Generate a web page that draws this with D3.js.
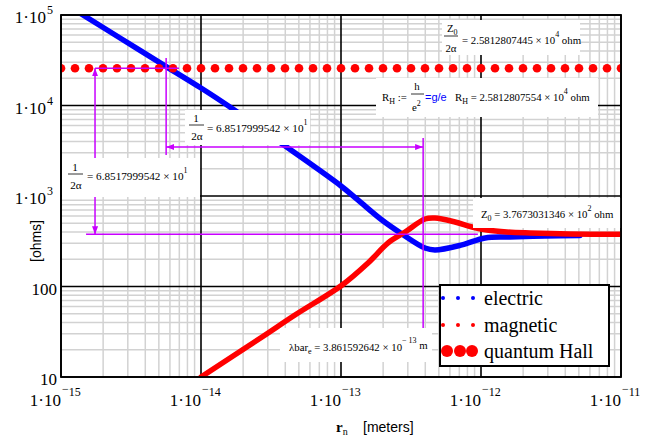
<!DOCTYPE html>
<html>
<head>
<meta charset="utf-8">
<script src="https://cdn.jsdelivr.net/npm/d3@7"></script>
<style>
  body { margin: 0; background: #fff; }
  svg { display: block; }
</style>
</head>
<body>
<div id="chart"></div>
<script>
const width = 663;
const height = 443;
const margin = { top: 15, right: 42, bottom: 66, left: 61 };
const serif = "'Liberation Serif', 'Times New Roman', Times, serif";
const sans = "'Liberation Sans', Arial, sans-serif";

// electric impedance trace (blue), r in meters, Z in ohms
const electricR = [1.3e-15, 2.64e-15, 5.72e-15, 1.0e-14, 1.61e-14, 3.86e-14, 1.0e-13, 1.32e-13, 1.96e-13,
    2.73e-13, 3.98e-13, 4.69e-13, 7.31e-13, 1.07e-12, 1.61e-12, 2.86e-12, 5.09e-12];
const electricZ = [1.1e5, 55700, 26600, 15600, 9620, 3700, 1290, 904, 543,
    380, 266, 253, 288, 344, 352, 361, 366];

// magnetic impedance trace (red)
const magneticR = [1.0e-14, 2.73e-14, 4.69e-14, 1.02e-13, 1.56e-13, 2.17e-13, 2.87e-13, 3.98e-13,
    4.69e-13, 6.52e-13, 8.63e-13, 1.10e-12, 1.53e-12, 2.24e-12, 4.33e-12, 1.0e-11];
const magneticZ = [10, 27.7, 48.4, 104, 182, 303, 400, 557,
    571, 516, 454, 421, 400, 390, 380, 377];

// quantum Hall resistance, sampled every tenth of a decade
const hallLogR = [-15.0, -14.9, -14.8, -14.7, -14.6, -14.5, -14.4, -14.3, -14.2, -14.1,
    -14.0, -13.9, -13.8, -13.7, -13.6, -13.5, -13.4, -13.3, -13.2, -13.1,
    -13.0, -12.9, -12.8, -12.7, -12.6, -12.5, -12.4, -12.3, -12.2, -12.1,
    -12.0, -11.9, -11.8, -11.7, -11.6, -11.5, -11.4, -11.3, -11.2, -11.1, -11.0];
const hallZ = 25812.807554;

// constants used by the annotations
const Z0 = 376.73031346;
const lambdaBar = 3.861592642e-13;
const halfInvAlpha = 68.517999542;

const xTickLabels = ['1·10|−15', '1·10|−14', '1·10|−13', '1·10|−12', '1·10|−11'];
const yTickLabels = ['10', '100', '1·10|3', '1·10|4', '1·10|5'];
const legendNames = ['electric', 'magnetic', 'quantum Hall'];

const magenta = '#c800ff';

const svg = d3.select('#chart')
    .append('svg')
    .attr('width', width)
    .attr('height', height)
    .attr('font-family', serif);

const xScale = d3.scaleLog()
    .domain([1e-15, 1e-11])
    .range([margin.left, width - margin.right]);

const yScale = d3.scaleLog()
    .domain([10, 1e5])
    .range([height - margin.bottom, margin.top]);

const [x0, x1] = xScale.range();
const [y0, y1] = yScale.range();

svg.append('defs').append('clipPath')
    .attr('id', 'plot-clip')
    .append('rect')
        .attr('x', x0)
        .attr('y', y1)
        .attr('width', x1 - x0)
        .attr('height', y0 - y1);

svg.select('defs').append('marker')
    .attr('id', 'arrow')
    .attr('viewBox', '0 0 8 6')
    .attr('refX', 8)
    .attr('refY', 3)
    .attr('markerWidth', 8)
    .attr('markerHeight', 6)
    .attr('markerUnits', 'userSpaceOnUse')
    .attr('orient', 'auto-start-reverse')
    .append('path')
        .attr('d', 'M0,0 L8,3 L0,6 Z')
        .attr('fill', magenta);

const isDecade = v => Math.abs(Math.log10(v) - Math.round(Math.log10(v))) < 1e-6;

// grid: light minor lines first, then black decade lines
const gridG = svg.append('g');
const xTicks = xScale.ticks();
const yTicks = yScale.ticks();

for (const major of [false, true]) {
    gridG.selectAll(null)
        .data(xTicks.filter(t => isDecade(t) === major))
        .enter()
        .append('line')
            .attr('x1', d => xScale(d))
            .attr('x2', d => xScale(d))
            .attr('y1', y0)
            .attr('y2', y1)
            .attr('stroke', major ? '#000' : '#d2d2d2')
            .attr('stroke-width', major ? 1.6 : 1.5);

    gridG.selectAll(null)
        .data(yTicks.filter(t => isDecade(t) === major))
        .enter()
        .append('line')
            .attr('x1', x0)
            .attr('x2', x1)
            .attr('y1', d => yScale(d))
            .attr('y2', d => yScale(d))
            .attr('stroke', major ? '#000' : '#d2d2d2')
            .attr('stroke-width', major ? 1.6 : 1.5);
}

// traces
const plotG = svg.append('g').attr('clip-path', 'url(#plot-clip)');

const trace = d3.line()
    .x(d => xScale(d[0]))
    .y(d => yScale(d[1]))
    .curve(d3.curveCatmullRom.alpha(0.5));

plotG.append('path')
    .datum(d3.zip(electricR, electricZ))
    .attr('fill', 'none')
    .attr('stroke', '#0000ff')
    .attr('stroke-width', 5.5)
    .attr('stroke-linecap', 'round')
    .attr('d', trace);

plotG.append('path')
    .datum(d3.zip(magneticR, magneticZ))
    .attr('fill', 'none')
    .attr('stroke', '#ff0000')
    .attr('stroke-width', 5.5)
    .attr('stroke-linecap', 'round')
    .attr('d', trace);

plotG.selectAll('.hall')
    .data(hallLogR)
    .enter()
    .append('circle')
        .attr('class', 'hall')
        .attr('cx', d => xScale(Math.pow(10, d)))
        .attr('cy', yScale(hallZ))
        .attr('r', 4.3)
        .attr('fill', '#ff0000');

// magenta construction lines, in data units
const rLeft = 1.75e-15;
const zArrow = 3475;
const guides = [
    { r1: rLeft, z1: hallZ, r2: 6.97e-15, z2: hallZ, arrows: 0 },
    { r1: rLeft, z1: hallZ, r2: rLeft, z2: Z0, arrows: 2 },
    { r1: lambdaBar / halfInvAlpha, z1: 33500, r2: lambdaBar / halfInvAlpha, z2: 2840, arrows: 0 },
    { r1: lambdaBar / halfInvAlpha, z1: zArrow, r2: lambdaBar, z2: zArrow, arrows: 2 },
    { r1: lambdaBar, z1: 4375, r2: lambdaBar, z2: 30, arrows: 0 },
    { r1: 1.51e-15, z1: Z0, r2: 9.5e-13, z2: Z0, arrows: 0 }
];

svg.append('g').selectAll('line')
    .data(guides)
    .enter()
    .append('line')
        .attr('x1', d => xScale(d.r1))
        .attr('y1', d => yScale(d.z1))
        .attr('x2', d => xScale(d.r2))
        .attr('y2', d => yScale(d.z2))
        .attr('stroke', magenta)
        .attr('stroke-width', 1.5)
        .attr('marker-start', d => d.arrows ? 'url(#arrow)' : null)
        .attr('marker-end', d => d.arrows ? 'url(#arrow)' : null);

// text with sub/superscripts
function richText(parent, x, y, size, pieces, anchor = 'start') {
    const t = parent.append('text')
        .attr('x', x)
        .attr('y', y)
        .attr('font-size', size)
        .attr('font-family', serif)
        .attr('text-anchor', anchor);
    for (const p of pieces) {
        t.append('tspan')
            .attr('dy', p.dy || 0)
            .attr('font-size', p.size || size)
            .attr('fill', p.fill || '#000')
            .attr('font-family', p.family || serif)
            .attr('font-weight', p.weight || null)
            .text(p.t);
    }
    return t;
}

function fracLine(parent, xa, xb, y) {
    parent.append('line')
        .attr('x1', xa).attr('x2', xb)
        .attr('y1', y).attr('y2', y)
        .attr('stroke', '#000')
        .attr('stroke-width', 0.8);
}

const noteG = svg.append('g');
const boxes = [[62, 158, 138, 39], [185, 110, 125, 35], [442, 20, 138, 35],
    [376, 78, 222, 39], [473, 198, 148, 30], [280, 328, 152, 34]];
noteG.selectAll('rect')
    .data(boxes)
    .enter()
    .append('rect')
        .attr('x', d => d[0])
        .attr('y', d => d[1])
        .attr('width', d => d[2])
        .attr('height', d => d[3])
        .attr('fill', '#fff');

const fs = 10.8;
const fsA = 11.2;

// 1/(2 alpha), left box
richText(noteG, 75, 171, fsA, [{ t: '1' }], 'middle');
fracLine(noteG, 68, 83, 174);
richText(noteG, 76, 189, fsA, [{ t: '2α' }], 'middle');
richText(noteG, 87, 180, fsA, [{ t: '= 6.8517999542 × 10' }, { t: '1', dy: -7, size: 8 }]);

// 1/(2 alpha), middle box
richText(noteG, 196, 122, fsA, [{ t: '1' }], 'middle');
fracLine(noteG, 189, 204, 125);
richText(noteG, 197, 140, fsA, [{ t: '2α' }], 'middle');
richText(noteG, 207, 132, fsA, [{ t: '= 6.8517999542 × 10' }, { t: '1', dy: -7, size: 8 }]);

// Z0 / (2 alpha)
richText(noteG, 447, 32, fs, [{ t: 'Z' }, { t: '0', dy: 3, size: 8 }], 'start');
fracLine(noteG, 444, 458, 36);
richText(noteG, 451, 52, fs, [{ t: '2α' }], 'middle');
richText(noteG, 462, 44, fs, [{ t: '= 2.5812807445 × 10' }, { t: '4', dy: -7, size: 8 }, { t: ' ohm', dy: 7 }]);

// R_H := h/e^2
richText(noteG, 382, 101, fs, [{ t: 'R' }, { t: 'H', dy: 3, size: 8 }, { t: ' :=', dy: -3 }]);
richText(noteG, 417, 90, fs, [{ t: 'h' }], 'middle');
fracLine(noteG, 411, 424, 94);
richText(noteG, 412, 111, fs, [{ t: 'e' }, { t: '2', dy: -5, size: 8 }]);
richText(noteG, 425, 101, 11, [{ t: '=g/e', fill: '#0000ff', family: sans }]);
richText(noteG, 455, 101, fs, [{ t: 'R' }, { t: 'H', dy: 3, size: 8 },
    { t: ' = 2.5812807554 × 10', dy: -3 }, { t: '4', dy: -7, size: 8 }, { t: ' ohm', dy: 7 }]);

// Z0
richText(noteG, 481, 218, fs, [{ t: 'Z' }, { t: '0', dy: 3, size: 8 },
    { t: ' = 3.7673031346 × 10', dy: -3 }, { t: '2', dy: -7, size: 8 }, { t: ' ohm', dy: 7 }]);

// reduced Compton wavelength
richText(noteG, 289, 351, fs, [{ t: 'λbar' }, { t: 'e', dy: 3, size: 8 },
    { t: ' = 3.861592642 × 10', dy: -3 }, { t: '− 13', dy: -8, size: 8 }, { t: ' m', dy: 6 }]);

// plot border
svg.append('rect')
    .attr('x', x0)
    .attr('y', y1)
    .attr('width', x1 - x0)
    .attr('height', y0 - y1)
    .attr('fill', 'none')
    .attr('stroke', '#000')
    .attr('stroke-width', 1.8);

// axis labels
const axisG = svg.append('g');
xTicks.filter(isDecade).forEach((t, i) => {
    const [base, sup] = xTickLabels[i].split('|');
    const x = xScale(t);
    richText(axisG, x, 406, 17, [{ t: base }], 'end');
    richText(axisG, x + 1, 396, 12, [{ t: sup[0], dy: -3 }, { t: sup.slice(1), dy: 3 }]);
});

yTicks.filter(isDecade).forEach((t, i) => {
    const [base, sup] = yTickLabels[i].split('|');
    const y = yScale(t);
    if (sup) {
        richText(axisG, 46, y + 8, 17, [{ t: base }], 'end');
        richText(axisG, 47, y - 1, 12, [{ t: sup }]);
    } else {
        richText(axisG, 57, y + 8, 17, [{ t: base }], 'end');
    }
});

richText(axisG, 336, 432, 15, [{ t: 'r', weight: 'bold' }, { t: 'n', dy: 3, size: 10 }]);
richText(axisG, 363, 432, 14, [{ t: '[meters]', family: sans }]);

axisG.append('text')
    .attr('transform', `translate(41, 241) rotate(-90)`)
    .attr('text-anchor', 'middle')
    .attr('font-size', 14)
    .attr('font-family', sans)
    .text('[ohms]');

// legend
const legendG = svg.append('g');
legendG.append('rect')
    .attr('x', 440)
    .attr('y', 285)
    .attr('width', 169)
    .attr('height', 81)
    .attr('fill', '#fff')
    .attr('stroke', '#000')
    .attr('stroke-width', 2);

const legendRows = [
    { y: 298, color: '#0000ff', r: 2, xs: [443, 458, 473] },
    { y: 325, color: '#ff0000', r: 2, xs: [443, 458, 473] },
    { y: 351, color: '#ff0000', r: 6, xs: [447, 460, 472] }
];

legendRows.forEach((row, i) => {
    legendG.selectAll(null)
        .data(row.xs)
        .enter()
        .append('circle')
            .attr('cx', d => d)
            .attr('cy', row.y)
            .attr('r', row.r)
            .attr('fill', row.color);
    richText(legendG, 484, row.y + 7, 20, [{ t: legendNames[i] }]);
});
</script>
</body>
</html>
